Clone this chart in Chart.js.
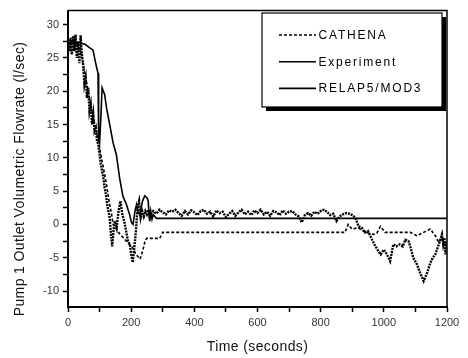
<!DOCTYPE html>
<html>
<head>
<meta charset="utf-8">
<script src="https://cdn.jsdelivr.net/npm/chart.js@4.4.0/dist/chart.umd.min.js"></script>
<style>
  html, body { margin: 0; padding: 0; background: #fff; }
</style>
</head>
<body>
<canvas id="chart" width="468" height="358"></canvas>
<script>
// series names, in legend order
const seriesNames = ['CATHENA', 'Experiment', 'RELAP5/MOD3'];

// tick values
const xTickValues = [0, 100, 200, 300, 400, 500, 600, 700, 800, 900, 1000, 1100, 1200];
const yTickValues = [-10, -7.5, -5, -2.5, 0, 2.5, 5, 7.5, 10, 12.5, 15, 17.5, 20, 22.5, 25, 27.5, 30];

// CATHENA (l/sec vs seconds)
const cathenaTime = [0, 15, 30, 40, 50, 60, 70, 80, 90, 100, 110, 120, 130, 138, 143, 160, 175, 190, 205, 215, 228, 233, 238, 244, 249, 290, 300,
  877, 887, 899, 919, 935, 950, 967, 978, 989, 1004, 1084, 1105, 1126, 1147, 1163, 1174, 1184, 1192, 1200];
const cathenaFlow = [27.5, 27.8, 27, 26, 23.5, 21, 18.5, 16, 14, 11.5, 9, 6.5, 3.5, 1.5, 0, -1.2, -2, -2.8, -3.5, -4.5, -5.2, -4.5, -3.7, -2.5, -2.1, -2.1, -1.2,
  -1.2, 0, -0.7, -0.5, -1, -1.3, -1.5, -1.3, -0.3, -1.2, -1.2, -1.7, -1.2, -0.7, -1.7, -2.7, -2, -3, -2.5];

// Experiment
const expTime = [0, 4, 8, 12, 16, 20, 24, 28, 32, 36, 40, 44, 48, 52, 56, 60, 64, 68, 72, 76, 80, 84, 88, 92, 96, 100,
  104, 108, 112, 116, 120, 124, 128, 132, 136, 140, 144, 148, 154, 160, 166, 172, 178, 184, 190, 196, 200, 205, 210,
  215, 220, 225, 230, 235, 240, 245, 250, 255, 260,
  270, 280, 290, 300, 310, 320, 330, 340, 350, 360, 370, 380, 390, 400, 410, 420, 430, 440, 450, 460, 470, 480, 490,
  500, 510, 520, 530, 540, 550, 560, 570, 580, 590, 600, 610, 620, 630, 640, 650, 660, 670, 680, 690, 700, 710, 720,
  730, 740, 750, 760, 770, 780, 790, 800, 810, 820, 830, 840, 850, 860, 870, 880, 890, 900, 910, 920, 930, 940, 950,
  960, 970, 980, 990, 1000, 1010, 1020, 1030, 1040, 1050, 1060, 1068, 1078, 1085, 1093, 1105, 1115, 1126, 1137, 1147,
  1155, 1163, 1174, 1184, 1188, 1192, 1195, 1198, 1200];
const expFlow = [27.2, 26, 28, 25.5, 28.3, 26, 28.5, 25, 27.5, 24.2, 28.4, 25.5, 24, 21, 22, 19, 20.5, 17, 18, 15, 16.5, 14, 14.5, 12.5, 12, 10.5,
  9, 8, 7, 5.5, 4.5, 3, 2, 1, -1.5, -3.3, -1, 0.5, -0.5, 2, 3.5, 1.5, 0.5, -1, -2.5, -3, -4.5, -5.7, -3.5,
  -1, 2.5, 3.5, 1, 2, 1.2, 2, 1.5, 2.2, 1.4,
  2.0, 1.6, 2.2, 1.8, 1.5, 2.1, 1.9, 2.2, 1.7, 1.3, 2.0, 1.5, 2.1, 1.8, 1.4, 2.0, 2.2, 1.6, 1.9, 1.2, 2.1, 1.7, 1.9,
  1.1, 1.6, 2.0, 1.3, 1.8, 2.2, 1.5, 1.9, 1.4, 2.1, 1.7, 2.2, 1.5, 1.9, 1.3, 2.0, 1.8, 1.4, 2.1, 1.6, 1.9, 2.0, 1.5,
  1.2, 0.3, 1.4, 1.7, 1.3, 1.9, 1.6, 2.0, 2.2, 1.9, 1.4, 1.6, 0.5, 1.2, 1.5, 1.7, 1.6, 1.4, 1.0, -0.3, -0.5, -1.2, -1.0,
  -2.0, -3, -3.8, -4.5, -3.8, -4.5, -5.5, -3, -3.3, -3.0, -3.3, -2.3, -2.5, -3.5, -5, -6, -7.3, -8.5, -7.3, -5.8,
  -5, -4.5, -3, -1.5, -3, -2, -4.5, -2.5, -3];

// RELAP5/MOD3
const relapTime = [0, 20, 42, 55, 69, 79, 90, 95, 97, 100, 104, 108, 116, 122, 132, 143, 153, 164, 174, 185, 195, 201, 206,
  212, 217, 222, 227, 236, 243, 250, 254, 257, 259, 262, 266, 270, 280, 1200];
const relapFlow = [27.2, 27.4, 27.2, 27, 26.5, 26.2, 23.7, 22.7, 13, 12.3, 16, 20.5, 19.5, 17.5, 15, 12.2, 10.5, 6.8, 4.2, 3, 1.5, 0.3, 0,
  2, 3, 1.8, 1.5, 3.5, 4.3, 4, 3.5, 1, 0.5, 2, 0.8, 1.5, 0.9, 0.9];

function toPoints(times, values) {
  return times.map((t, i) => ({ x: t, y: values[i] }));
}

const lineDashes = [[3, 2], [], []];

// frame, legend box and axis titles
const decorPlugin = {
  id: 'decor',
  afterDraw(chart) {
    const ctx = chart.ctx;
    const a = chart.chartArea;
    ctx.save();
    ctx.strokeStyle = '#000';
    ctx.lineWidth = 1.5;
    ctx.beginPath();
    ctx.moveTo(a.left, a.top);
    ctx.lineTo(a.right, a.top);
    ctx.lineTo(a.right, a.bottom);
    ctx.stroke();

    // legend
    const lx = 262, ly = 13, lw = 180, lh = 94;
    ctx.fillStyle = '#000';
    ctx.fillRect(lx + 4, ly + 4, lw, lh);
    ctx.fillStyle = '#fff';
    ctx.fillRect(lx, ly, lw, lh);
    ctx.lineWidth = 1.2;
    ctx.strokeRect(lx, ly, lw, lh);

    ctx.font = '12px "Liberation Sans", Arial, sans-serif';
    ctx.letterSpacing = '1.8px';
    ctx.textAlign = 'left';
    ctx.textBaseline = 'middle';
    seriesNames.forEach((name, i) => {
      const y = 35 + i * 26.7;
      ctx.setLineDash(lineDashes[i]);
      ctx.lineWidth = 1.6;
      ctx.beginPath();
      ctx.moveTo(279, y);
      ctx.lineTo(316, y);
      ctx.stroke();
      ctx.setLineDash([]);
      ctx.fillStyle = '#000';
      ctx.fillText(name, 318.5, y + 0.5);
    });

    // axis titles
    ctx.font = '14px "Liberation Sans", Arial, sans-serif';
    ctx.letterSpacing = '0.4px';
    ctx.textAlign = 'center';
    ctx.fillStyle = '#111';
    ctx.fillText('Time (seconds)', (a.left + a.right) / 2, 347);
    ctx.translate(20, 179);
    ctx.rotate(-Math.PI / 2);
    ctx.fillText('Pump 1 Outlet Volumetric Flowrate (l/sec)', 0, 0);
    ctx.restore();
  }
};

new Chart(document.getElementById('chart'), {
  type: 'line',
  data: {
    datasets: [
      {
        label: seriesNames[0],
        data: toPoints(cathenaTime, cathenaFlow),
        borderColor: '#000',
        borderWidth: 1.6,
        borderDash: lineDashes[0]
      },
      {
        label: seriesNames[1],
        data: toPoints(expTime, expFlow),
        borderColor: '#000',
        borderWidth: 2.4,
        borderDash: [2, 1]
      },
      {
        label: seriesNames[2],
        data: toPoints(relapTime, relapFlow),
        borderColor: '#000',
        borderWidth: 1.6
      }
    ]
  },
  options: {
    responsive: false,
    animation: false,
    layout: { padding: { top: 9, right: 21, left: 0, bottom: 0 } },
    elements: { point: { radius: 0 }, line: { tension: 0 } },
    plugins: {
      legend: { display: false },
      tooltip: { enabled: false }
    },
    scales: {
      x: {
        type: 'linear',
        min: 0,
        max: 1200,
        afterFit: scale => { scale.height = 51; },
        afterBuildTicks: scale => { scale.ticks = xTickValues.map(v => ({ value: v })); },
        border: { display: true, color: '#000', width: 2 },
        grid: { drawOnChartArea: false, tickLength: 5, tickColor: '#000', tickWidth: 1.5 },
        ticks: {
          autoSkip: false,
          maxRotation: 0,
          padding: 4,
          color: '#333',
          font: { family: '"Liberation Sans", Arial, sans-serif', size: 11 },
          callback: v => (v % 200 === 0 ? String(v) : '')
        }
      },
      y: {
        min: -12.4,
        max: 32.1,
        afterFit: scale => { scale.width = 68; },
        afterBuildTicks: scale => { scale.ticks = yTickValues.map(v => ({ value: v })); },
        border: { display: true, color: '#000', width: 2 },
        grid: { drawOnChartArea: false, tickLength: 5, tickColor: '#000', tickWidth: 1.5 },
        ticks: {
          autoSkip: false,
          padding: 4,
          color: '#333',
          font: { family: '"Liberation Sans", Arial, sans-serif', size: 11 },
          callback: v => (v % 5 === 0 ? String(v) : '')
        }
      }
    }
  },
  plugins: [decorPlugin]
});
</script>
</body>
</html>
